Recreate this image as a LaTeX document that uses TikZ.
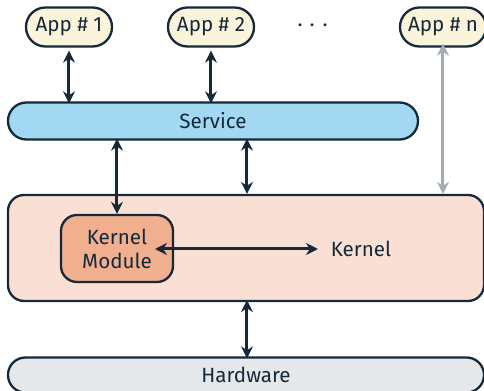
\documentclass[tikz,border=0pt]{standalone}
\usepackage{fontspec}
\setmainfont{Fira Sans}
\usetikzlibrary{arrows.meta}
\definecolor{ink}{HTML}{15293A}
\definecolor{appfill}{HTML}{FAF4DA}
\definecolor{servfill}{HTML}{A3D8F3}
\definecolor{kernfill}{HTML}{FADFD4}
\definecolor{modfill}{HTML}{F0AF8F}
\definecolor{hwfill}{HTML}{E4E8EB}
\definecolor{grayarr}{HTML}{A3AAB1}
\tikzset{
  lbl/.style={text=ink, font=\fontsize{10.3}{12}\selectfont},
  box/.style={draw=ink, line width=1.15pt, lbl, inner sep=0pt, align=center},
  app/.style={box, fill=appfill, minimum width=43pt, minimum height=19.5pt, rounded corners=9.7pt},
  conn/.style={draw=ink, line width=1.5pt, {Stealth[length=6pt,width=6pt]}-{Stealth[length=6pt,width=6pt]}},
  gconn/.style={conn, draw=grayarr}
}
\begin{document}
\begin{tikzpicture}[x=0.5pt,y=-0.5pt]
\useasboundingbox (0,0) rectangle (484,391);
\clip (0,0) rectangle (484,391);
\node[app] (a1) at (69,27) {App \# 1};
\node[app] (a2) at (211,27) {App \# 2};
\node[lbl, font=\fontsize{14}{15}\selectfont] (dots) at (313,26) {$\cdots$};
\node[app] (an) at (443,27) {App \# n};
\node[box, fill=servfill, minimum width=205pt, minimum height=18.5pt, rounded corners=9.2pt] (serv) at (213,121) {Service};
\node[box, fill=kernfill, minimum width=238pt, minimum height=53pt, rounded corners=8pt] (kern) at (246,248) {};
\node[box, fill=modfill, minimum width=56pt, minimum height=33.5pt, rounded corners=8pt] (mod) at (117,248.5) {Kernel\\Module};
\node[lbl] (ktext) at (361,249) {Kernel};
\node[box, fill=hwfill, minimum width=238pt, minimum height=17.5pt, rounded corners=8.7pt] (hw) at (246,375) {Hardware};
\coordinate (m1) at (155,249);
\coordinate (m2) at (318,249);
\draw[conn] (a1.south) ++(0,3) -- ([yshift=-1pt]a1.south |- serv.north);
\draw[conn] (a2.south) ++(0,3) -- ([yshift=-1pt]a2.south |- serv.north);
\draw[gconn] ([yshift=2pt]an.south) -- ([yshift=0pt]an.south |- kern.north);
\draw[conn] ([yshift=1pt]serv.south -| mod.north) -- (mod.north);
\draw[conn] ([yshift=1pt]serv.south -| 247,0) -- (247,0 |- kern.north);
\draw[conn] (m1) -- (m2);
\draw[conn] ([yshift=1pt]kern.south -| 247,0) -- ([yshift=-1pt]247,0 |- hw.north);
\end{tikzpicture}
\end{document}
